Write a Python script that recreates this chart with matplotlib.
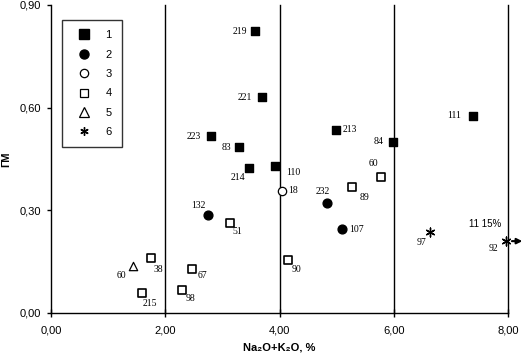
import matplotlib
matplotlib.use('Agg')
import matplotlib.pyplot as plt
from matplotlib.lines import Line2D

plt.rcParams['font.family'] = ['Liberation Sans', 'DejaVu Sans']

# data: Na2O+K2O (%) vs ГМ
s1_x = [3.57, 3.69, 2.80, 3.29, 3.47, 3.92, 4.99, 5.99, 7.39]
s1_y = [0.824, 0.631, 0.517, 0.485, 0.424, 0.430, 0.535, 0.500, 0.576]
s1_lab = ['219', '221', '223', '83', '214', '110', '213', '84', '111']

s2_x = [2.74, 4.83, 5.09]
s2_y = [0.286, 0.321, 0.245]
s2_lab = ['132', '232', '107']

s3_x = [4.04]
s3_y = [0.357]
s3_lab = ['18']

s4_x = [5.78, 5.27, 3.13, 1.75, 2.47, 2.30, 1.59, 4.15]
s4_y = [0.397, 0.368, 0.263, 0.161, 0.129, 0.067, 0.058, 0.155]
s4_lab = ['60', '89', '51', '38', '67', '98', '215', '90']

s5_x = [1.43]
s5_y = [0.137]
s5_lab = ['60']

s6_x = [6.64, 7.97]
s6_y = [0.236, 0.210]
s6_lab = ['97', '92']

legend_labels = ['1', '2', '3', '4', '5', '6']
xticks = [0, 2, 4, 6, 8]
yticks = [0.0, 0.3, 0.6, 0.9]

# label offsets in pixels (dx right, dy down)
off1 = [(-15, 0), (-17, 0), (-17, 0), (-13, 0), (-11, 10), (18, 7), (14, 0), (-15, 0), (-19, 0)]
off2 = [(-9, -10), (-4, -12), (15, 0)]
off3 = [(11, 0)]
off4 = [(-8, -14), (12, 10), (8, 9), (7, 12), (10, 7), (8, 8), (8, 10), (8, 10)]
off5 = [(-11, 9)]
off6 = [(-9, 10), (-13, 7)]

fig = plt.figure(figsize=(5.26, 3.58), dpi=100)
ax = fig.add_axes([51 / 526, 1 - 313 / 358, 457 / 526, 308 / 358])

series = [
    (s1_x, s1_y, s1_lab, off1, dict(marker='s', s=40, facecolor='black', edgecolor='black')),
    (s2_x, s2_y, s2_lab, off2, dict(marker='o', s=40, facecolor='black', edgecolor='black')),
    (s3_x, s3_y, s3_lab, off3, dict(marker='o', s=36, facecolor='white', edgecolor='black', linewidth=0.9)),
    (s4_x, s4_y, s4_lab, off4, dict(marker='s', s=36, facecolor='white', edgecolor='black', linewidth=1.2)),
    (s5_x, s5_y, s5_lab, off5, dict(marker='^', s=36, facecolor='white', edgecolor='black', linewidth=0.9)),
    (s6_x, s6_y, s6_lab, off6, dict(marker=(6, 2, 0), s=40, color='black', linewidth=1.0)),
]

for xs, ys, labs, offs, style in series:
    ax.scatter(xs, ys, zorder=3, clip_on=False, **style)
    for x, y, t, (dx, dy) in zip(xs, ys, labs, offs):
        ax.annotate(t, (x, y), xytext=(dx * 0.72, -dy * 0.72), textcoords='offset points',
                    ha='center', va='center', fontsize=7, family='Liberation Serif',
                    annotation_clip=False)

# off-scale note for sample 92
ax.annotate('11 15%', (s6_x[1], s6_y[1]), xytext=(-15, 12), textcoords='offset points',
            ha='center', va='center', fontsize=7, annotation_clip=False)
ax.annotate('', xy=(8.30, s6_y[1]), xytext=(8.02, s6_y[1]),
            arrowprops=dict(arrowstyle='-|>', color='black', lw=1.5, mutation_scale=8),
            annotation_clip=False)

for gx in xticks[1:]:
    ax.axvline(gx, color='black', lw=1.0, zorder=1, clip_on=False)

ax.set_xlim(0, 8)
ax.set_ylim(0, 0.9)
ax.set_xticks(xticks)
ax.set_yticks(yticks)
ax.set_xticklabels([('%.2f' % v).replace('.', ',') for v in xticks])
ax.set_yticklabels([('%.2f' % v).replace('.', ',') for v in yticks])
ax.tick_params(axis='x', direction='inout', length=6, width=1, labelsize=8, pad=6)
ax.tick_params(axis='y', direction='out', length=3, width=1, labelsize=8, pad=4)
for side in ['top', 'right']:
    ax.spines[side].set_visible(False)
for side in ['left', 'bottom']:
    ax.spines[side].set_linewidth(1.0)

ax.set_xlabel('Na₂O+K₂O, %', fontsize=8, fontweight='bold', labelpad=5)
ax.set_ylabel('ГМ', fontsize=8, fontweight='bold', labelpad=6)

handles = [
    Line2D([], [], ls='', marker='s', ms=6.5, mfc='black', mec='black'),
    Line2D([], [], ls='', marker='o', ms=6.5, mfc='black', mec='black'),
    Line2D([], [], ls='', marker='o', ms=6, mfc='white', mec='black', mew=0.9),
    Line2D([], [], ls='', marker='s', ms=6, mfc='white', mec='black', mew=0.9),
    Line2D([], [], ls='', marker='^', ms=6.5, mfc='white', mec='black', mew=0.9),
    Line2D([], [], ls='', marker=(6, 2, 0), ms=6, color='black', mew=1.0),
]
leg = ax.legend(handles, legend_labels, loc='upper left', bbox_to_anchor=(0.024, 0.951),
                frameon=True, fancybox=False, edgecolor='black', fontsize=8,
                labelspacing=0.85, borderpad=0.9, handletextpad=0.8, handlelength=2.2,
                borderaxespad=0)
leg.get_frame().set_linewidth(1.0)

fig.savefig('out.png', dpi=100)
